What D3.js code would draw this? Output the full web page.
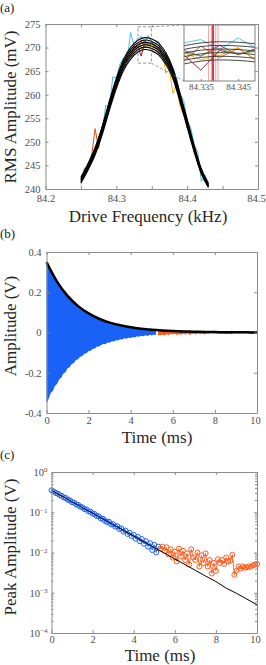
<!DOCTYPE html>
<html>
<head>
<meta charset="utf-8">
<script src="https://cdnjs.cloudflare.com/ajax/libs/d3/7.8.5/d3.min.js"></script>
<style>
body { margin: 0; background: #fff; }
text { font-family: "Liberation Serif", "Times New Roman", serif; }
</style>
</head>
<body>
<div class="container"></div>
<script>
const WIDTH = 266;
const HEIGHT = 665;

// (a) frequency sweeps, mV
const FREQ = [84.250, 84.255, 84.260, 84.265, 84.270, 84.275, 84.280, 84.285, 84.290, 84.295,
	84.300, 84.305, 84.310, 84.315, 84.320, 84.325, 84.330, 84.335, 84.340, 84.345,
	84.350, 84.355, 84.360, 84.365, 84.370, 84.375, 84.380, 84.385, 84.390, 84.395,
	84.400, 84.405, 84.410, 84.415, 84.420, 84.425, 84.430];
const SWEEP_LIGHTBLUE = [240.9, 244.5, 244.0, 247.2, 247.5, 251.0, 251.8, 257.8, 256.9, 263.8, 263.5, 266.5, 267.8, 266.9, 273.2, 270.5, 271.9, 272.4, 271.0, 272.6, 271.2, 270.8, 271.3, 268.0, 268.9, 265.5, 265.6, 263.5, 260.1, 258.8, 254.6, 253.0, 249.4, 247.8, 241.6, 243.0, 241.2];
const SWEEP_PURPLE = [242.3, 243.0, 245.3, 246.0, 248.6, 249.4, 253.0, 254.3, 258.4, 259.4, 262.9, 264.0, 267.0, 267.1, 269.4, 269.0, 271.0, 270.1, 271.6, 270.3, 271.2, 269.8, 270.5, 268.2, 268.3, 265.6, 265.1, 261.1, 259.9, 256.0, 254.5, 250.2, 249.2, 245.3, 244.3, 241.8, 240.9];
const SWEEP_ORANGE = [242.4, 243.0, 245.4, 246.8, 252.8, 248.6, 253.2, 255.6, 257.0, 260.8, 262.0, 265.2, 265.8, 268.3, 268.0, 270.4, 269.3, 271.5, 269.9, 271.2, 269.5, 270.6, 268.5, 269.3, 266.4, 266.9, 263.2, 262.6, 258.0, 257.4, 253.0, 251.8, 247.6, 246.7, 243.0, 242.7, 240.5];
const SWEEP_YELLOW = [241.4, 243.9, 245.0, 245.8, 248.4, 250.6, 251.9, 255.4, 257.1, 260.5, 261.8, 265.1, 265.7, 268.0, 268.2, 269.1, 270.7, 269.6, 270.2, 271.3, 269.4, 270.9, 268.8, 269.4, 264.5, 265.3, 260.2, 262.0, 257.5, 255.7, 254.6, 250.4, 248.9, 245.5, 244.2, 241.6, 240.9];
const SWEEP_RED = [242.0, 243.6, 244.4, 246.6, 247.8, 250.3, 252.0, 255.3, 257.2, 260.3, 262.1, 264.9, 266.0, 268.1, 268.3, 270.0, 270.5, 268.2, 270.9, 270.4, 271.0, 269.9, 269.8, 268.4, 267.9, 265.8, 264.8, 261.4, 259.6, 256.4, 254.2, 250.7, 248.8, 245.7, 244.0, 241.9, 240.6];
const SWEEP_GREEN = [242.6, 242.9, 245.1, 246.1, 248.3, 249.8, 252.7, 254.7, 257.9, 259.7, 262.7, 264.4, 266.6, 267.3, 269.0, 269.3, 270.6, 270.2, 271.1, 270.4, 270.8, 269.9, 270.0, 268.9, 267.3, 266.5, 264.2, 262.0, 258.9, 257.0, 253.6, 251.3, 248.2, 246.3, 243.5, 242.4, 240.8];
const SWEEPS = [SWEEP_LIGHTBLUE, SWEEP_PURPLE, SWEEP_ORANGE, SWEEP_YELLOW, SWEEP_RED, SWEEP_GREEN];
const SWEEP_COLORS = ["#4DBEEE", "#7E2F8E", "#D95319", "#EDB120", "#A2142F", "#77AC30"];

// (a) fitted curves
const FIT_FREQ = [84.25, 84.26, 84.27, 84.28, 84.29, 84.30, 84.31, 84.32, 84.33, 84.34,
	84.35, 84.36, 84.37, 84.38, 84.39, 84.40, 84.41, 84.42, 84.43];
const FIT_1 = [242.5, 245.4, 248.8, 253.3, 258.6, 263.5, 267.5, 270.0, 271.5, 272.1, 271.8, 270.9, 268.9, 265.6, 260.3, 254.8, 249.2, 244.3, 241.2];
const FIT_2 = [242.2, 245.1, 248.5, 253.0, 258.2, 263.1, 267.0, 269.5, 271.0, 271.6, 271.3, 270.4, 268.4, 265.2, 259.9, 254.4, 248.9, 244.0, 241.0];
const FIT_3 = [242.0, 244.9, 248.2, 252.7, 257.9, 262.7, 266.6, 269.0, 270.5, 271.1, 270.8, 269.9, 267.9, 264.8, 259.6, 254.1, 248.7, 243.8, 240.8];
const FIT_4 = [241.8, 244.6, 247.9, 252.3, 257.4, 262.2, 266.1, 268.5, 270.0, 270.6, 270.3, 269.4, 267.4, 264.3, 259.1, 253.7, 248.3, 243.6, 240.6];
const FIT_5 = [241.5, 244.3, 247.6, 251.9, 257.0, 261.8, 265.6, 268.0, 269.5, 270.1, 269.8, 268.9, 266.9, 263.9, 258.8, 253.4, 248.1, 243.4, 240.5];
const FIT_6 = [241.3, 244.0, 247.2, 251.5, 256.6, 261.3, 265.1, 267.5, 269.0, 269.6, 269.3, 268.4, 266.4, 263.4, 258.4, 253.1, 247.8, 243.2, 240.3];
const FITS = [FIT_1, FIT_2, FIT_3, FIT_4, FIT_5, FIT_6];

// (a) inset
const ZOOM_FREQ = [84.3305, 84.3495];
const ZOOM_AMP = [266.7, 274.4];
const RES_LIGHT = [84.3371, 84.3379, 84.3390, 84.3396];
const RES_DARK = [84.3381, 84.3384];

// (b),(c) ring-down peaks, V
const T_BLUE = [0.0, 0.1, 0.2, 0.3, 0.4, 0.5, 0.6, 0.7, 0.8, 0.9, 1.0, 1.1, 1.2, 1.3, 1.4, 1.5, 1.6, 1.7, 1.8, 1.9,
	2.0, 2.1, 2.2, 2.3, 2.4, 2.5, 2.6, 2.7, 2.8, 2.9, 3.0, 3.1, 3.2, 3.3, 3.4, 3.5, 3.6, 3.7, 3.8, 3.9,
	4.0, 4.1, 4.2, 4.3, 4.4, 4.5, 4.6, 4.7, 4.8, 4.9, 5.0, 5.1, 5.2];
const PEAK_BLUE = [0.352, 0.330, 0.301, 0.291, 0.266, 0.256, 0.233, 0.225, 0.204, 0.197, 0.178, 0.173, 0.157, 0.152, 0.137, 0.133, 0.120, 0.117, 0.105, 0.103,
	0.0925, 0.0905, 0.0805, 0.0795, 0.0700, 0.0690, 0.0615, 0.0575, 0.0580, 0.0500, 0.0505, 0.0440, 0.0450, 0.0385, 0.0400, 0.0330, 0.0350, 0.0290, 0.0310, 0.0255,
	0.0275, 0.0220, 0.0245, 0.0190, 0.0215, 0.0165, 0.0190, 0.0140, 0.0170, 0.0115, 0.0155, 0.0100, 0.0140];
const T_ORANGE = [5.3, 5.4, 5.5, 5.6, 5.7, 5.8, 5.9, 6.0, 6.1, 6.2, 6.3, 6.4, 6.5, 6.6, 6.7, 6.8, 6.9, 7.0, 7.1, 7.2,
	7.3, 7.4, 7.5, 7.6, 7.7, 7.8, 7.9, 8.0, 8.1, 8.2, 8.3, 8.4, 8.5, 8.6, 8.7, 8.8, 8.9, 9.0, 9.1, 9.2,
	9.3, 9.4, 9.5, 9.6, 9.7, 9.8, 9.9, 10.0];
const PEAK_ORANGE = [0.0125, 0.0140, 0.0110, 0.0135, 0.0090, 0.0120, 0.0075, 0.0105, 0.0060, 0.0125, 0.0080, 0.0110, 0.0065, 0.0095, 0.0050, 0.0120, 0.0075, 0.0065, 0.0100, 0.0045,
	0.0085, 0.0055, 0.0095, 0.0045, 0.0065, 0.0030, 0.0055, 0.0035, 0.0068, 0.0055, 0.0065, 0.0052, 0.0075, 0.0060, 0.0062, 0.0088, 0.0028, 0.0035, 0.0045, 0.0040,
	0.0045, 0.0042, 0.0043, 0.0045, 0.0044, 0.0048, 0.0050, 0.0052];
const T_FIT = [0, 0.5, 1, 1.5, 2, 2.5, 3, 3.5, 4, 4.5, 5, 5.5, 6, 6.5, 7, 7.5, 8, 8.5, 9, 9.5, 10];
const ENV_FIT = [0.350, 0.253, 0.182, 0.131, 0.0949, 0.0684, 0.0493, 0.0356, 0.0256, 0.0185, 0.0133, 0.0096, 0.0069, 0.0050, 0.0036, 0.0026, 0.0019, 0.0013, 0.00097, 0.0007, 0.0005];

// tick labels
const A_XTICKS = [84.2, 84.25, 84.3, 84.35, 84.4, 84.45, 84.5];
const A_YTICKS = [240, 245, 250, 255, 260, 265, 270, 275];
const A_INSET_TICKS = [84.335, 84.345];
const T_TICKS = [0, 2, 4, 6, 8, 10];
const B_YTICKS = [-0.4, -0.2, 0, 0.2, 0.4];
const C_YTICKS = [1e-4, 1e-3, 1e-2, 1e-1, 1];

const BLUE = "#1a62f7";
const ORANGE = "#ff5a1a";
const AXIS = "#8c8c8c";

var translate = function(x, y){
	return "translate(" + x + "," + y + ")";
};

var zip = function(xs, ys){
	return xs.map(function(x, i){ return {x: x, y: ys[i]}; });
};

var styleAxis = function(g){
	g.attr("font-family", null).attr("font-size", null);
	g.select(".domain").attr("stroke", AXIS);
	g.selectAll(".tick line").attr("stroke", AXIS);
	g.selectAll(".tick text").attr("fill", "#4d4d4d").style("font-size", "10.5px");
};

var drawFrame = function(svg, x, y, opt){
	var l = x.range()[0], r = x.range()[1], b = y.range()[0], t = y.range()[1];
	var bottom = svg.append("g").attr("transform", translate(0, b))
		.call(d3.axisBottom(x).tickValues(opt.xTicks).tickFormat(opt.xFormat)
			.tickSize(-3).tickSizeOuter(0).tickPadding(opt.xPad));
	var top = svg.append("g").attr("transform", translate(0, t))
		.call(d3.axisTop(x).tickValues(opt.xTicks).tickFormat(function(){ return ""; })
			.tickSize(-3).tickSizeOuter(0));
	var left = svg.append("g").attr("transform", translate(l, 0))
		.call(d3.axisLeft(y).tickValues(opt.yTicks).tickFormat(opt.yFormat)
			.tickSize(-3).tickSizeOuter(0).tickPadding(opt.yPad));
	var right = svg.append("g").attr("transform", translate(r, 0))
		.call(d3.axisRight(y).tickValues(opt.yTicks).tickFormat(function(){ return ""; })
			.tickSize(-3).tickSizeOuter(0));
	[bottom, top, left, right].forEach(styleAxis);
	// keep the last x label inside the page
	bottom.selectAll(".tick text").filter(function(d, i, n){ return i === n.length - 1; }).attr("dx", "-2");
	return left;
};

var labels = function(svg, tag, tagY, xText, xCx, xY, yText, yCy){
	svg.append("text").attr("x", 0).attr("y", tagY).style("font-size", "13px").attr("fill", "#222").text(tag);
	svg.append("text").attr("x", xCx).attr("y", xY).attr("text-anchor", "middle")
		.style("font-size", "17px").attr("fill", "#262626").text(xText);
	svg.append("text").attr("transform", translate(16, yCy) + " rotate(-90)").attr("text-anchor", "middle")
		.style("font-size", "17px").attr("fill", "#262626").text(yText);
};

var panelA = function(svg){
	var x = d3.scaleLinear().domain([84.2, 84.5]).range([45.5, 258]);
	var y = d3.scaleLinear().domain([240, 275]).range([189, 24]);
	var line = d3.line().x(function(d){ return x(d.x); }).y(function(d){ return y(d.y); });
	var fitLine = d3.line().curve(d3.curveMonotoneX).x(function(d){ return x(d.x); }).y(function(d){ return y(d.y); });

	var g = svg.append("g");
	SWEEPS.forEach(function(s, i){
		g.append("path").attr("d", line(zip(FREQ, s))).attr("fill", "none")
			.attr("stroke", SWEEP_COLORS[i]).attr("stroke-width", 1);
	});
	FITS.forEach(function(s){
		g.append("path").attr("d", fitLine(zip(FIT_FREQ, s))).attr("fill", "none")
			.attr("stroke", "#000").attr("stroke-width", 1.1);
	});

	drawFrame(svg, x, y, {
		xTicks: A_XTICKS, xPad: 6,
		xFormat: function(d){ return Math.abs(Math.round(d * 10) / 10 - d) < 1e-6 ? d.toFixed(1) : ""; },
		yTicks: A_YTICKS, yPad: 5, yFormat: d3.format("d")
	});

	// zoom box and connectors
	var bx0 = x(ZOOM_FREQ[0]), bx1 = x(ZOOM_FREQ[1]), by0 = y(ZOOM_AMP[1]), by1 = y(ZOOM_AMP[0]);
	var ix = d3.scaleLinear().domain(ZOOM_FREQ).range([184, 255]);
	var iy = d3.scaleLinear().domain(ZOOM_AMP).range([81, 25]);
	var dash = svg.append("g").attr("stroke", "#7a7a7a").attr("stroke-width", 0.8)
		.attr("stroke-dasharray", "3,2").attr("fill", "none");
	dash.append("rect").attr("x", bx0).attr("y", by0).attr("width", bx1 - bx0).attr("height", by1 - by0);
	dash.append("line").attr("x1", bx1).attr("y1", by0).attr("x2", ix.range()[0]).attr("y2", iy.range()[1]);
	dash.append("line").attr("x1", bx1).attr("y1", by1).attr("x2", ix.range()[0]).attr("y2", iy.range()[0]);

	// inset
	svg.append("clipPath").attr("id", "insetClip").append("rect")
		.attr("x", 184).attr("y", 25).attr("width", 71).attr("height", 56);
	svg.append("rect").attr("x", 184).attr("y", 25).attr("width", 71).attr("height", 56).attr("fill", "#fff");
	var ig = svg.append("g").attr("clip-path", "url(#insetClip)");
	var iline = d3.line().x(function(d){ return ix(d.x); }).y(function(d){ return iy(d.y); });
	var ifit = d3.line().curve(d3.curveMonotoneX).x(function(d){ return ix(d.x); }).y(function(d){ return iy(d.y); });
	RES_LIGHT.forEach(function(f){
		ig.append("line").attr("x1", ix(f)).attr("x2", ix(f)).attr("y1", 25).attr("y2", 81)
			.attr("stroke", "#f2a0a0").attr("stroke-width", 1);
	});
	RES_DARK.forEach(function(f){
		ig.append("line").attr("x1", ix(f)).attr("x2", ix(f)).attr("y1", 25).attr("y2", 81)
			.attr("stroke", "#e0303a").attr("stroke-width", 1);
	});
	SWEEPS.forEach(function(s, i){
		ig.append("path").attr("d", iline(zip(FREQ, s))).attr("fill", "none")
			.attr("stroke", SWEEP_COLORS[i]).attr("stroke-width", 0.9);
	});
	FITS.forEach(function(s){
		ig.append("path").attr("d", ifit(zip(FIT_FREQ, s))).attr("fill", "none")
			.attr("stroke", "#333").attr("stroke-width", 0.9);
	});
	var ib = svg.append("g").attr("transform", translate(0, 81))
		.call(d3.axisBottom(ix).tickValues(A_INSET_TICKS).tickFormat(d3.format(".3f"))
			.tickSize(-2).tickSizeOuter(0).tickPadding(3));
	styleAxis(ib);
	ib.select(".domain").remove();
	ib.selectAll(".tick text").style("font-size", "9px");
	svg.append("rect").attr("x", 184).attr("y", 25).attr("width", 71).attr("height", 56)
		.attr("fill", "none").attr("stroke", "#808080").attr("stroke-width", 1);

	labels(svg, "(a)", 12, "Drive Frequency (kHz)", 148, 222, "RMS Amplitude (mV)", 107);
};

var panelB = function(svg){
	var x = d3.scaleLinear().domain([0, 10]).range([46.5, 257]);
	var y = d3.scaleLinear().domain([-0.4, 0.4]).range([413, 252]);
	var area = d3.area().x(function(d){ return x(d.x); })
		.y0(function(d){ return y(-d.y); }).y1(function(d){ return y(d.y); });
	var env = d3.line().curve(d3.curveMonotoneX).x(function(d){ return x(d.x); }).y(function(d){ return y(d.y); });

	svg.append("path").attr("d", area(zip(T_BLUE, PEAK_BLUE))).attr("fill", BLUE);
	svg.append("path").attr("d", area(zip(T_ORANGE, PEAK_ORANGE))).attr("fill", ORANGE);
	svg.append("path").attr("d", env(zip(T_FIT, ENV_FIT))).attr("fill", "none")
		.attr("stroke", "#000").attr("stroke-width", 2.5);

	drawFrame(svg, x, y, {
		xTicks: T_TICKS, xPad: 4, xFormat: d3.format("d"),
		yTicks: B_YTICKS, yPad: 5,
		yFormat: function(d){ return d === 0 ? "0" : d.toFixed(1); }
	});
	labels(svg, "(b)", 238, "Time (ms)", 157, 443, "Amplitude (V)", 326);
};

var panelC = function(svg){
	var x = d3.scaleLinear().domain([0, 10]).range([51.5, 257]);
	var y = d3.scaleLog().domain([1e-4, 1]).range([633, 472]);
	var line = d3.line().x(function(d){ return x(d.x); }).y(function(d){ return y(d.y); });

	var drawSeries = function(ts, vs, color){
		var data = zip(ts, vs);
		svg.append("path").attr("d", line(data)).attr("fill", "none")
			.attr("stroke", color).attr("stroke-width", 0.9);
		svg.append("g").selectAll("circle").data(data).enter().append("circle")
			.attr("cx", function(d){ return x(d.x); }).attr("cy", function(d){ return y(d.y); })
			.attr("r", 2.5).attr("fill", "none").attr("stroke", color).attr("stroke-width", 1);
	};
	drawSeries(T_BLUE, PEAK_BLUE, BLUE);
	drawSeries(T_ORANGE, PEAK_ORANGE, ORANGE);
	svg.append("path").attr("d", line(zip(T_FIT, ENV_FIT))).attr("fill", "none")
		.attr("stroke", "#000").attr("stroke-width", 1);

	var left = drawFrame(svg, x, y, {
		xTicks: T_TICKS, xPad: 3, xFormat: d3.format("d"),
		yTicks: C_YTICKS, yPad: 4, yFormat: function(){ return ""; }
	});
	left.selectAll(".tick text").each(function(d){
		var t = d3.select(this), e = Math.round(Math.log10(d));
		t.append("tspan").text("10");
		t.append("tspan").attr("dy", "-0.5em").style("font-size", "7px").text(e === 0 ? "0" : "\u2212" + (-e));
	});

	// minor log ticks
	var minor = [];
	C_YTICKS.slice(0, -1).forEach(function(p){
		[2, 3, 4, 5, 6, 7, 8, 9].forEach(function(m){ minor.push(p * m); });
	});
	[[x.range()[0], d3.axisLeft], [x.range()[1], d3.axisRight]].forEach(function(s){
		var g = svg.append("g").attr("transform", translate(s[0], 0))
			.call(s[1](y).tickValues(minor).tickFormat(function(){ return ""; }).tickSize(-2).tickSizeOuter(0));
		styleAxis(g);
		g.select(".domain").remove();
	});

	labels(svg, "(c)", 459, "Time (ms)", 160, 661, "Peak Amplitude (V)", 547);
};

var load = function(){
	var svg = d3.select(".container").append("svg")
		.attr("width", WIDTH)
		.attr("height", HEIGHT);
	panelA(svg);
	panelB(svg);
	panelC(svg);
};

window.onload = load;
</script>
</body>
</html>
